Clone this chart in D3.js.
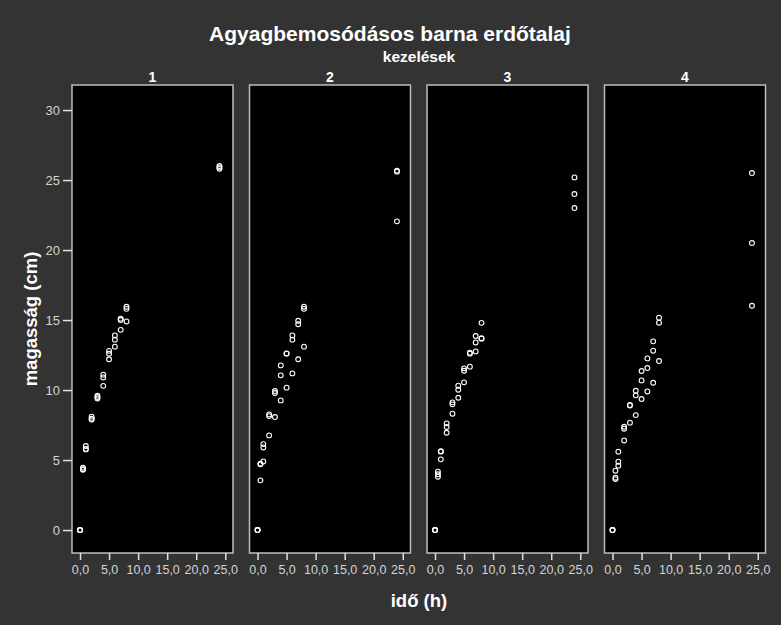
<!DOCTYPE html>
<html lang="hu">
<head>
<meta charset="UTF-8">
<script src="https://cdn.jsdelivr.net/npm/d3@7"></script>
<title>Agyagbemosódásos barna erdőtalaj</title>
<style>
  body { margin: 0; background: #333333; }
  text { font-family: "Liberation Sans", Arial, sans-serif; }
</style>
</head>
<body>
<script>
  // mintavételi idők (h)
  var times = [0, 0.5, 1, 2, 3, 4, 5, 6, 7, 8, 24];
  var panels = ["1", "2", "3", "4"];

  // magasság (cm), időpontonként 3 ismétlés
  var kez1 = [[0,0,0],[4.45,4.3,4.35],[6.0,5.76,5.8],[8.1,7.9,7.95],[9.6,9.4,9.5],
    [11.1,10.9,10.3],[12.8,12.6,12.2],[13.9,13.6,13.1],[15.1,15.0,14.3],[15.95,15.8,14.9],[26.0,25.8,25.9]];
  var kez2 = [[0,0,0],[3.55,4.74,4.7],[4.9,6.14,5.9],[6.76,8.26,8.14],[8.07,9.93,9.79],
    [9.26,11.05,11.76],[10.17,12.62,12.6],[11.19,13.9,13.6],[12.2,14.95,14.7],[13.1,15.95,15.8],[22.05,25.67,25.6]];
  var kez3 = [[0,0,0],[4.17,3.98,3.81],[5.64,5.05,5.6],[7.62,7.36,6.95],[9.12,8.98,8.31],
    [10.31,10.02,9.45],[11.55,11.38,10.55],[12.67,11.67,12.6],[13.86,13.4,12.76],[14.8,13.67,13.7],[25.19,24.0,23.0]];
  var kez4 = [[0,0,0],[3.74,3.64,4.24],[4.6,4.88,5.6],[6.4,7.24,7.38],[7.67,8.93,8.9],
    [8.21,9.62,9.95],[9.36,10.69,11.36],[9.9,11.57,12.26],[10.52,12.81,13.48],[12.07,14.81,15.17],[16.02,20.5,25.5]];
  var series = [kez1, kez2, kez3, kez4];

  var xTicks = [0, 5, 10, 15, 20, 25];
  var yTicks = [0, 5, 10, 15, 20, 25, 30];

  var width = 781, height = 625;

  var svg = d3.select('body').append('svg')
    .attr('width', width)
    .attr('height', height);

  svg.append('rect').attr('width', width).attr('height', height).attr('fill', '#333333');

  var panelScale = d3.scaleBand()
    .domain(panels)
    .range([72, 765.5])
    .paddingInner(0.093);

  var pw = panelScale.bandwidth();
  var plotTop = 85, plotBottom = 553;

  var x = d3.scaleLinear().domain([-1.38, 26.33]).range([0, pw]);
  var y = d3.scaleLinear().domain([-1.64, 31.79]).range([plotBottom, plotTop]);

  var fmt = function(d) { return d3.format('.1f')(d).replace('.', ','); };

  // címek
  svg.append('text')
    .attr('x', 390).attr('y', 41)
    .attr('text-anchor', 'middle')
    .attr('fill', '#ffffff')
    .style('font-size', '21px').style('font-weight', 'bold')
    .text('Agyagbemosódásos barna erdőtalaj');

  svg.append('text')
    .attr('x', 419).attr('y', 62)
    .attr('text-anchor', 'middle')
    .attr('fill', '#ffffff')
    .style('font-size', '15.5px').style('font-weight', 'bold')
    .text('kezelések');

  svg.append('text')
    .attr('transform', 'translate(37,' + (plotTop + plotBottom) / 2 + ') rotate(-90)')
    .attr('text-anchor', 'middle')
    .attr('fill', '#ffffff')
    .style('font-size', '18.5px').style('font-weight', 'bold')
    .text('magasság (cm)');

  svg.append('text')
    .attr('x', 419).attr('y', 607)
    .attr('text-anchor', 'middle')
    .attr('fill', '#ffffff')
    .style('font-size', '18.5px').style('font-weight', 'bold')
    .text('idő (h)');

  panels.forEach(function(p, i) {
    var g = svg.append('g')
      .attr('transform', 'translate(' + panelScale(p) + ',0)');

    g.append('rect')
      .attr('x', 0).attr('y', plotTop)
      .attr('width', pw).attr('height', plotBottom - plotTop)
      .attr('fill', '#000000')
      .attr('stroke', '#bdbdbd')
      .attr('stroke-width', 1.5);

    g.append('text')
      .attr('x', pw / 2).attr('y', 82)
      .attr('text-anchor', 'middle')
      .attr('fill', '#ffffff')
      .style('font-size', '14px').style('font-weight', 'bold')
      .text(p);

    var xAxis = g.append('g')
      .attr('transform', 'translate(0,' + plotBottom + ')')
      .call(d3.axisBottom(x).tickValues(xTicks).tickFormat(fmt).tickSize(7).tickPadding(5));
    xAxis.select('.domain').remove();
    xAxis.selectAll('line').attr('stroke', '#e0e0e0').attr('stroke-width', 1.5);
    xAxis.selectAll('text').attr('fill', '#d4d4d4')
      .style('font-size', '12.5px').style('font-family', '"Liberation Sans", Arial, sans-serif');

    if (i === 0) {
      var yAxis = g.append('g')
        .call(d3.axisLeft(y).tickValues(yTicks).tickSize(9).tickPadding(3));
      yAxis.select('.domain').remove();
      yAxis.selectAll('line').attr('stroke', '#e0e0e0').attr('stroke-width', 1.5);
      yAxis.selectAll('text').attr('fill', '#d4d4d4')
        .style('font-size', '13px').style('font-family', '"Liberation Sans", Arial, sans-serif');
    }

    var pts = [];
    series[i].forEach(function(vals, j) {
      vals.forEach(function(v) { pts.push({t: times[j], h: v}); });
    });

    g.selectAll('circle')
      .data(pts)
      .enter().append('circle')
      .attr('cx', function(d) { return x(d.t); })
      .attr('cy', function(d) { return y(d.h); })
      .attr('r', 2.4)
      .attr('fill', 'none')
      .attr('stroke', '#ffffff')
      .attr('stroke-width', 1.1);
  });
</script>
</body>
</html>
